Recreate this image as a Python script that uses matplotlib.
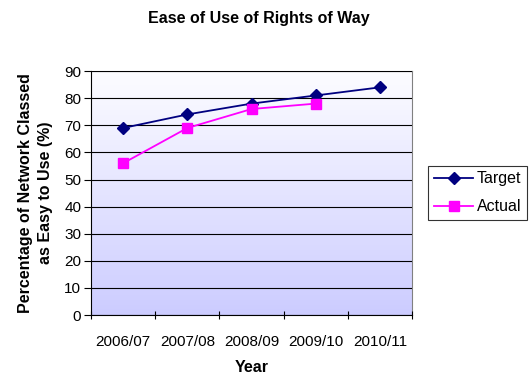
import numpy as np
import matplotlib
matplotlib.use('Agg')
import matplotlib.pyplot as plt
from matplotlib.colors import LinearSegmentedColormap

plt.rcParams['font.family'] = ['Liberation Sans', 'DejaVu Sans']

years = ['2006/07', '2007/08', '2008/09', '2009/10', '2010/11']
target = [69, 74, 78, 81, 84]
actual = [56, 69, 76, 78]

fig = plt.figure(figsize=(5.29, 3.76), dpi=100)
ax = fig.add_axes([0.172, 0.162, 0.607, 0.649])

# plot area fill: white at the top fading to lavender
grad = LinearSegmentedColormap.from_list('bg', ['#ccccff', '#fdfdff'])
ax.imshow(np.linspace(0, 1, 256).reshape(-1, 1), cmap=grad, origin='lower',
          extent=[0, 1, 0, 1], transform=ax.transAxes, aspect='auto', zorder=0)

x = np.arange(len(years))
ax.plot(x, target, color='#000080', marker='D', markersize=6, lw=1.3,
        label='Target', zorder=3)
ax.plot(x[:len(actual)], actual, color='#ff00ff', marker='s', markersize=6.5,
        lw=1.3, label='Actual', zorder=3)

ax.set_xlim(-0.5, len(years) - 0.5)
ax.set_ylim(0, 90)
ax.set_yticks(range(0, 91, 10))
ax.yaxis.grid(True, color='black', lw=0.8)
ax.set_axisbelow(False)

# category axis: ticks between categories, labels centred
ax.set_xticks(np.arange(-0.5, len(years), 1))
ax.set_xticklabels([])
ax.set_xticks(x, minor=True)
ax.set_xticklabels(years, minor=True)
ax.tick_params(axis='x', which='minor', length=0, pad=14, labelsize=11)
ax.tick_params(axis='x', which='major', direction='inout', length=6)
ax.tick_params(axis='y', direction='out', length=5, labelsize=11, pad=2)

for s in ('top', 'right'):
    ax.spines[s].set_color('#808080')
for s in ('left', 'bottom'):
    ax.spines[s].set_color('black')

ax.set_xlabel('Year', fontsize=11.5, fontweight='bold', labelpad=8)
ax.set_ylabel('Percentage of Network Classed\nas Easy to Use (%)', fontsize=11.5,
              fontweight='bold', labelpad=8, linespacing=1.45)
fig.text(0.49, 0.952, 'Ease of Use of Rights of Way', ha='center', va='center',
         fontsize=11.5, fontweight='bold')

leg = fig.legend(loc='center left', bbox_to_anchor=(0.809, 0.487), frameon=True,
                 fancybox=False, fontsize=11.5, handlelength=2.5,
                 borderpad=0.35, labelspacing=0.8, handletextpad=0.2,
                 borderaxespad=0)
leg.get_frame().set_edgecolor('black')
leg.get_frame().set_linewidth(0.8)

fig.savefig('out.png', dpi=100)
